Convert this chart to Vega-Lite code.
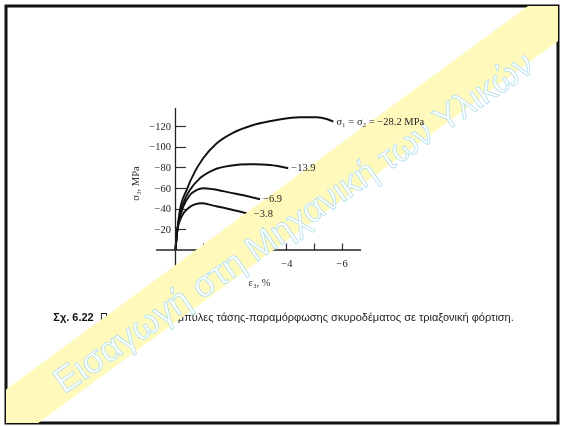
{
  "$schema": "https://vega.github.io/schema/vega-lite/v6.json",
  "width": 552,
  "height": 417,
  "autosize": {"type": "none"},
  "padding": {"left": 6, "top": 6, "right": 5, "bottom": 3},
  "background": "white",
  "config": {"view": {"stroke": "#111", "strokeWidth": 3}},
  "resolve": {"axis": {"x": "independent", "y": "independent"}},
  "datasets": {
    "curves": [
      {"series": "28.2", "i": 0, "x": 0, "y": 0},
      {"series": "28.2", "i": 1, "x": -0.03, "y": -10},
      {"series": "28.2", "i": 2, "x": -0.07, "y": -20},
      {"series": "28.2", "i": 3, "x": -0.16, "y": -38.7},
      {"series": "28.2", "i": 4, "x": -0.4, "y": -58},
      {"series": "28.2", "i": 5, "x": -0.7, "y": -75.8},
      {"series": "28.2", "i": 6, "x": -1.0, "y": -88.8},
      {"series": "28.2", "i": 7, "x": -1.49, "y": -103.3},
      {"series": "28.2", "i": 8, "x": -2.09, "y": -113.6},
      {"series": "28.2", "i": 9, "x": -2.81, "y": -121},
      {"series": "28.2", "i": 10, "x": -3.65, "y": -125.8},
      {"series": "28.2", "i": 11, "x": -4.49, "y": -128.5},
      {"series": "28.2", "i": 12, "x": -5.1, "y": -128.5},
      {"series": "28.2", "i": 13, "x": -5.46, "y": -126.8},
      {"series": "28.2", "i": 14, "x": -5.7, "y": -124.2},
      {"series": "13.9", "i": 0, "x": 0, "y": 0},
      {"series": "13.9", "i": 1, "x": -0.03, "y": -10},
      {"series": "13.9", "i": 2, "x": -0.07, "y": -20},
      {"series": "13.9", "i": 3, "x": -0.12, "y": -29},
      {"series": "13.9", "i": 4, "x": -0.28, "y": -45.2},
      {"series": "13.9", "i": 5, "x": -0.52, "y": -58},
      {"series": "13.9", "i": 6, "x": -0.88, "y": -69.4},
      {"series": "13.9", "i": 7, "x": -1.36, "y": -77.4},
      {"series": "13.9", "i": 8, "x": -1.97, "y": -81.6},
      {"series": "13.9", "i": 9, "x": -2.69, "y": -83},
      {"series": "13.9", "i": 10, "x": -3.41, "y": -82.3},
      {"series": "13.9", "i": 11, "x": -4.07, "y": -79.1},
      {"series": "6.9", "i": 0, "x": 0, "y": 0},
      {"series": "6.9", "i": 1, "x": -0.03, "y": -10},
      {"series": "6.9", "i": 2, "x": -0.07, "y": -20},
      {"series": "6.9", "i": 3, "x": -0.11, "y": -26},
      {"series": "6.9", "i": 4, "x": -0.28, "y": -41.9},
      {"series": "6.9", "i": 5, "x": -0.52, "y": -53.2},
      {"series": "6.9", "i": 6, "x": -0.77, "y": -58.1},
      {"series": "6.9", "i": 7, "x": -1.0, "y": -59.7},
      {"series": "6.9", "i": 8, "x": -1.36, "y": -58.8},
      {"series": "6.9", "i": 9, "x": -1.97, "y": -55.5},
      {"series": "6.9", "i": 10, "x": -2.57, "y": -52.3},
      {"series": "6.9", "i": 11, "x": -3.05, "y": -49.1},
      {"series": "3.8", "i": 0, "x": 0, "y": 0},
      {"series": "3.8", "i": 1, "x": -0.03, "y": -10},
      {"series": "3.8", "i": 2, "x": -0.07, "y": -20},
      {"series": "3.8", "i": 3, "x": -0.22, "y": -32.2},
      {"series": "3.8", "i": 4, "x": -0.46, "y": -40.4},
      {"series": "3.8", "i": 5, "x": -0.7, "y": -44.2},
      {"series": "3.8", "i": 6, "x": -0.95, "y": -45.2},
      {"series": "3.8", "i": 7, "x": -1.36, "y": -42.9},
      {"series": "3.8", "i": 8, "x": -1.97, "y": -39.4},
      {"series": "3.8", "i": 9, "x": -2.72, "y": -34.5}
    ],
    "labels": [
      {"x": -5.7, "y": -124.2, "label": "σ₁ = σ₂ = −28.2 MPa"},
      {"x": -4.07, "y": -79.1, "label": "−13.9"},
      {"x": -3.05, "y": -49.1, "label": "−6.9"},
      {"x": -2.72, "y": -34.5, "label": "−3.8"}
    ]
  },
  "layer": [
    {
      "data": {"name": "curves"},
      "mark": {"type": "line", "interpolate": "monotone", "color": "#111", "strokeWidth": 1.9},
      "encoding": {
        "x": {
          "field": "x", "type": "quantitative",
          "scale": {"domain": [-13.809, 6.119], "reverse": true, "nice": false, "zero": false},
          "axis": {
            "orient": "bottom", "offset": -173,
            "values": [-1, -2, -3, -4, -5, -6],
            "labelExpr": "datum.value % 2 == 0 ? datum.label : ''",
            "tickSize": -7, "tickWidth": 1.2, "tickColor": "#333", "ticks": true,
            "labelPadding": 15.5, "domain": false, "grid": false,
            "labelFont": "Liberation Serif", "labelFontSize": 10.5, "labelColor": "#222",
            "labelOverlap": false, "labelFlush": false, "labelBound": false,
            "title": "ε₃, %", "titleFont": "Liberation Serif", "titleFontSize": 10.5,
            "titleFontWeight": "normal", "titleColor": "#333",
            "titleX": 253, "titleY": 32.7, "titleBaseline": "middle", "titleAlign": "center"
          }
        },
        "y": {
          "field": "y", "type": "quantitative",
          "scale": {"domain": [-236.2, 167.5], "reverse": true, "nice": false, "zero": false},
          "axis": {
            "orient": "left", "offset": -169.5,
            "values": [-20, -40, -60, -80, -100, -120],
            "tickSize": -10, "tickWidth": 1.2, "tickColor": "#333", "ticks": true,
            "labelPadding": 15, "domain": false, "grid": false,
            "labelFont": "Liberation Serif", "labelFontSize": 10.5, "labelColor": "#222",
            "labelOverlap": false, "labelFlush": false, "labelBound": false,
            "title": "σ₃, MPa", "titleFont": "Liberation Serif", "titleFontSize": 10.5,
            "titleFontWeight": "normal", "titleColor": "#333",
            "titleX": -40.5, "titleY": 177, "titleAngle": -90,
            "titleBaseline": "middle", "titleAlign": "center"
          }
        },
        "detail": {"field": "series"},
        "order": {"field": "i", "type": "quantitative"}
      }
    },
    {
      "data": {"values": [{}]},
      "mark": {"type": "rule", "color": "#222", "strokeWidth": 1.3},
      "encoding": {
        "x": {"datum": 0.7, "type": "quantitative", "axis": null},
        "x2": {"datum": -6.7},
        "y": {"datum": 0, "type": "quantitative", "axis": null}
      }
    },
    {
      "data": {"values": [{}]},
      "mark": {"type": "rule", "color": "#222", "strokeWidth": 1.3},
      "encoding": {
        "x": {"datum": 0, "type": "quantitative", "axis": null},
        "y": {"datum": -137.5, "type": "quantitative", "axis": null},
        "y2": {"datum": 17.4}
      }
    },
    {
      "data": {"values": [{"t": "Σχ. 6.22"}]},
      "mark": {"type": "text", "align": "left", "baseline": "middle", "font": "Liberation Sans", "fontSize": 11, "fontWeight": "bold", "color": "#111"},
      "encoding": {
        "x": {"datum": 4.412, "type": "quantitative", "axis": null},
        "y": {"datum": 66.1, "type": "quantitative", "axis": null},
        "text": {"field": "t"}
      }
    },
    {
      "data": {"values": [{"t": "Πειραματικές καμπύλες τάσης-παραμόρφωσης σκυροδέματος σε τριαξονική φόρτιση."}]},
      "mark": {"type": "text", "align": "left", "baseline": "middle", "font": "Liberation Sans", "fontSize": 11, "color": "#222"},
      "encoding": {
        "x": {"datum": 2.726, "type": "quantitative", "axis": null},
        "y": {"datum": 66.1, "type": "quantitative", "axis": null},
        "text": {"field": "t"}
      }
    },
    {
      "data": {"values": [{}]},
      "mark": {"type": "rule", "color": "#fffabc", "strokeWidth": 46, "blend": "multiply", "clip": true, "strokeCap": "butt"},
      "encoding": {
        "x": {"datum": 6.697, "type": "quantitative", "axis": null},
        "y": {"datum": 174.2, "type": "quantitative", "axis": null},
        "x2": {"datum": -14.42},
        "y2": {"datum": -242.0}
      }
    },
    {
      "data": {"values": [{"t": "Εισαγωγή στη Μηχανική των Υλικών"}]},
      "mark": {"type": "text", "align": "center", "baseline": "middle", "angle": -34.5, "font": "Liberation Sans", "fontSize": 35.5, "fill": "white", "stroke": "#b4e0ee", "strokeWidth": 0.8},
      "encoding": {
        "x": {"datum": -4.278, "type": "quantitative", "axis": null},
        "y": {"datum": -26.1, "type": "quantitative", "axis": null},
        "text": {"field": "t"}
      }
    },
    {
      "data": {"name": "labels"},
      "mark": {"type": "text", "align": "left", "baseline": "middle", "dx": 3, "font": "Liberation Serif", "fontSize": 10.5, "color": "#222"},
      "encoding": {
        "x": {"field": "x", "type": "quantitative", "axis": null},
        "y": {"field": "y", "type": "quantitative", "axis": null},
        "text": {"field": "label"}
      }
    }
  ]
}
